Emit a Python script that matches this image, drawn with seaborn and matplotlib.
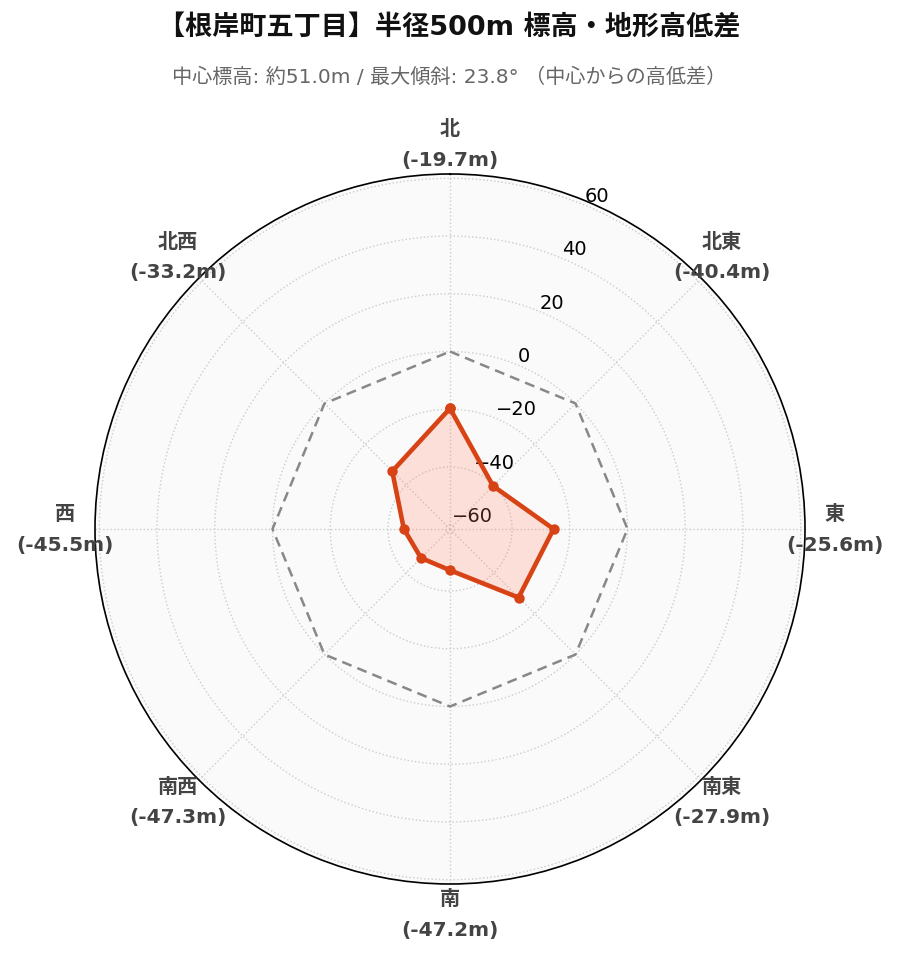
import numpy as np
import seaborn as sns
import matplotlib.pyplot as plt

# direction labels and height differences from the centre (m)
directions = ['北', '北東', '東', '南東', '南', '南西', '西', '北西']
diffs = [-19.7, -40.4, -25.6, -27.9, -47.2, -47.3, -45.5, -33.2]
ref_level = [0, 0, 0, 0, 0, 0, 0, 0]

title = '【根岸町五丁目】半径500m 標高・地形高低差'
subtitle = '中心標高: 約51.0m / 最大傾斜: 23.8° （中心からの高低差）'

sns.set_theme(style='white')
plt.rcParams['font.family'] = ['DejaVu Sans', 'Noto Sans CJK JP']

angles = np.deg2rad(np.arange(0, 360, 45))
ang_closed = np.append(angles, angles[0])
vals_closed = np.append(diffs, diffs[0])
ref_closed = np.append(ref_level, ref_level[0])

fig = plt.figure(figsize=(8.99, 9.62), dpi=100)
ax = fig.add_axes([95 / 899, 1 - 885 / 962, 710 / 899, 710 / 962], projection='polar')
ax.set_theta_zero_location('N')
ax.set_theta_direction(-1)
ax.set_facecolor('#fafafa')

lim = max(abs(v) for v in diffs) * 1.3
ax.set_ylim(-lim, lim)

ax.plot(ang_closed, ref_closed, color='#888888', lw=1.8, ls='--', dashes=(4, 2.5), zorder=2)
ax.fill(ang_closed, vals_closed, color='#ff8060', alpha=0.22, lw=0, zorder=2)
sns.lineplot(x=ang_closed, y=vals_closed, ax=ax, sort=False, estimator=None,
             color='#d84315', lw=3.3, marker='o', markersize=7.5,
             markeredgewidth=0, zorder=3)

ax.set_xticks(angles)
ax.set_xticklabels([])
label_r = -lim + 2 * lim * 385 / 355
for a, d, v in zip(angles, directions, diffs):
    ax.text(a, label_r, f'{d}\n({v}m)', ha='center', va='center',
            fontsize=14.5, fontweight='bold', color='#444444',
            linespacing=1.75, clip_on=False)

ax.set_yticks([-60, -40, -20, 0, 20, 40, 60])
ax.tick_params(axis='y', labelsize=14, labelcolor='black')
ax.set_rlabel_position(22.5)
ax.grid(True, color='#cccccc', ls=':', lw=1.0)
ax.spines['polar'].set_color('black')
ax.spines['polar'].set_linewidth(1.2)
ax.set_xlabel('')
ax.set_ylabel('')

fig.text(0.5, 1 - 28 / 962, title, ha='center', va='center',
         fontsize=19.5, fontweight='bold', color='#111111')
fig.text(0.5, 1 - 77 / 962, subtitle, ha='center', va='center',
         fontsize=14.5, color='#666666')

fig.savefig('out.png', dpi=100, facecolor='white')
